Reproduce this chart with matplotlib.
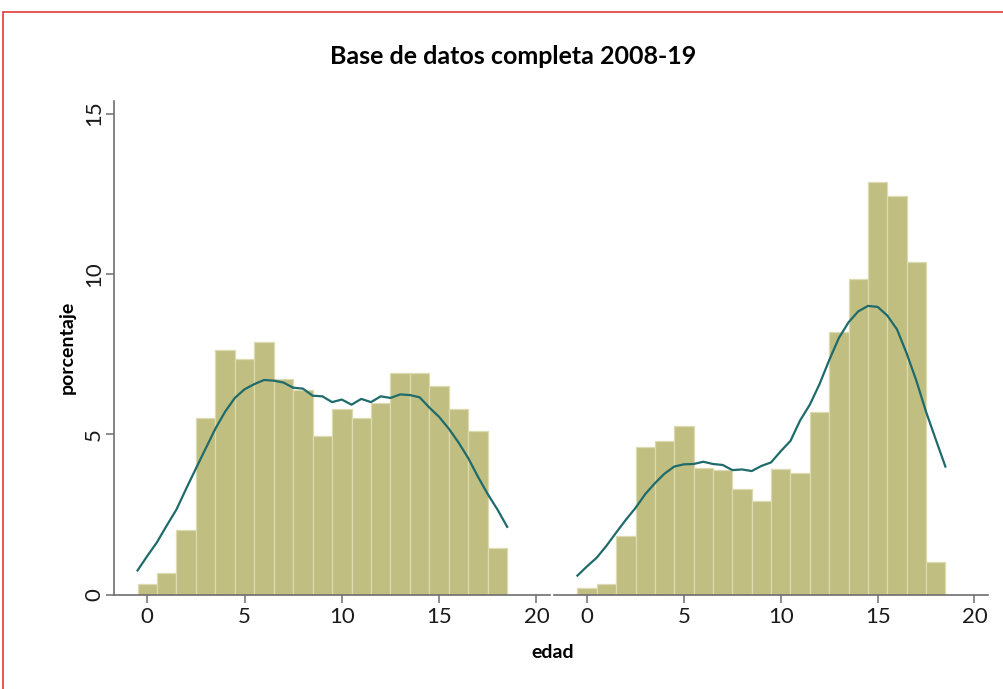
import matplotlib
matplotlib.use("Agg")
import matplotlib.pyplot as plt
from matplotlib.patches import Rectangle

# ---- data ----
ages = list(range(19))
left_pct = [0.32, 0.66, 2.01, 5.51, 7.63, 7.33, 7.88, 6.72, 6.38, 4.93,
            5.79, 5.49, 5.97, 6.91, 6.91, 6.51, 5.79, 5.09, 1.45]
right_pct = [0.21, 0.34, 1.82, 4.61, 4.79, 5.25, 3.93, 3.88, 3.29, 2.92,
             3.90, 3.79, 5.68, 8.19, 9.83, 12.86, 12.42, 10.37, 1.01]

kde_x = [-0.5, 0.0, 0.5, 1.0, 1.5, 2.0, 2.5, 3.0, 3.5, 4.0, 4.5, 5.0, 5.5, 6.0,
         6.5, 7.0, 7.5, 8.0, 8.5, 9.0, 9.5, 10.0, 10.5, 11.0, 11.5, 12.0, 12.5,
         13.0, 13.5, 14.0, 14.5, 15.0, 15.5, 16.0, 16.5, 17.0, 17.5, 18.0, 18.5]
left_kde = [0.75, 1.20, 1.63, 2.15, 2.65, 3.30, 3.93, 4.55, 5.17, 5.70, 6.13, 6.40,
            6.56, 6.69, 6.67, 6.61, 6.45, 6.42, 6.20, 6.18, 6.00, 6.08, 5.92,
            6.10, 6.00, 6.18, 6.13, 6.24, 6.22, 6.15, 5.83, 5.54, 5.17, 4.74,
            4.25, 3.67, 3.13, 2.65, 2.11]
right_kde = [0.59, 0.88, 1.15, 1.52, 1.93, 2.33, 2.70, 3.13, 3.47, 3.77, 3.99, 4.06,
             4.07, 4.14, 4.07, 4.04, 3.88, 3.90, 3.85, 4.01, 4.12, 4.47, 4.79,
             5.43, 5.92, 6.56, 7.31, 8.00, 8.49, 8.83, 9.00, 8.97, 8.70, 8.27,
             7.52, 6.67, 5.70, 4.84, 3.99]

title = "Base de datos completa 2008-19"
xlabel = "edad"
ylabel = "porcentaje"
xticks = [0, 5, 10, 15, 20]
yticks = [0, 5, 10, 15]

# ---- style ----
bar_color = "#c0be80"
edge_color = "#dcdab0"
line_color = "#1f6b6b"
spine_color = "#6e6e6e"
font = "Lato"

fig = plt.figure(figsize=(10.04, 6.89), dpi=100)
fig.patch.set_facecolor("white")

bottom = 1 - 594.5 / 689
top = 1 - 100.7 / 689
h = top - bottom
axL = fig.add_axes([113.8 / 1004, bottom, 436.2 / 1004, h])
axR = fig.add_axes([553.8 / 1004, bottom, 434.2 / 1004, h])

for ax, pct, kde in ((axL, left_pct, left_kde), (axR, right_pct, right_kde)):
    ax.bar(ages, pct, width=1.0, color=bar_color, edgecolor=edge_color,
           linewidth=0.9, zorder=2)
    ax.plot(kde_x, kde, color=line_color, lw=1.6, zorder=3)
    ax.set_xlim(-1.72, 20.7)
    ax.set_ylim(0, 15.4)
    ax.set_xticks(xticks)
    ax.set_xticklabels([str(t) for t in xticks], fontsize=16, family=font,
                       fontweight="normal", color="#1a1a1a")
    for s in ("top", "right"):
        ax.spines[s].set_visible(False)
    ax.spines["bottom"].set_color(spine_color)
    ax.spines["bottom"].set_linewidth(1.2)
    ax.tick_params(axis="x", direction="out", length=6, width=1.1,
                   color=spine_color, pad=3)
    ax.set_facecolor("none")

axL.spines["left"].set_color(spine_color)
axL.spines["left"].set_linewidth(1.2)
axL.set_yticks(yticks)
axL.set_yticklabels([str(t) for t in yticks], fontsize=16, family=font,
                    fontweight="normal", color="#1a1a1a", rotation=90,
                    va="center")
axL.tick_params(axis="y", direction="out", length=6, width=1.1,
                color=spine_color, pad=1)
axL.set_ylabel(ylabel, fontsize=14, family=font, fontweight="bold",
               labelpad=6)

axR.spines["left"].set_visible(False)
axR.set_yticks([])

fig.text(513 / 1004, 1 - 57 / 689, title, ha="center", va="center",
         fontsize=18, family=font, fontweight="bold")
fig.text(553 / 1004, 1 - 653 / 689, xlabel, ha="center", va="center",
         fontsize=14, family=font, fontweight="bold")

# red frame
fig.patches.append(Rectangle((3 / 1004, -0.05), 1.05, 1 - 12 / 689 + 0.05,
                             transform=fig.transFigure, fill=False,
                             edgecolor="#e03a3a", linewidth=1.2))

fig.savefig("out.png", dpi=100)
